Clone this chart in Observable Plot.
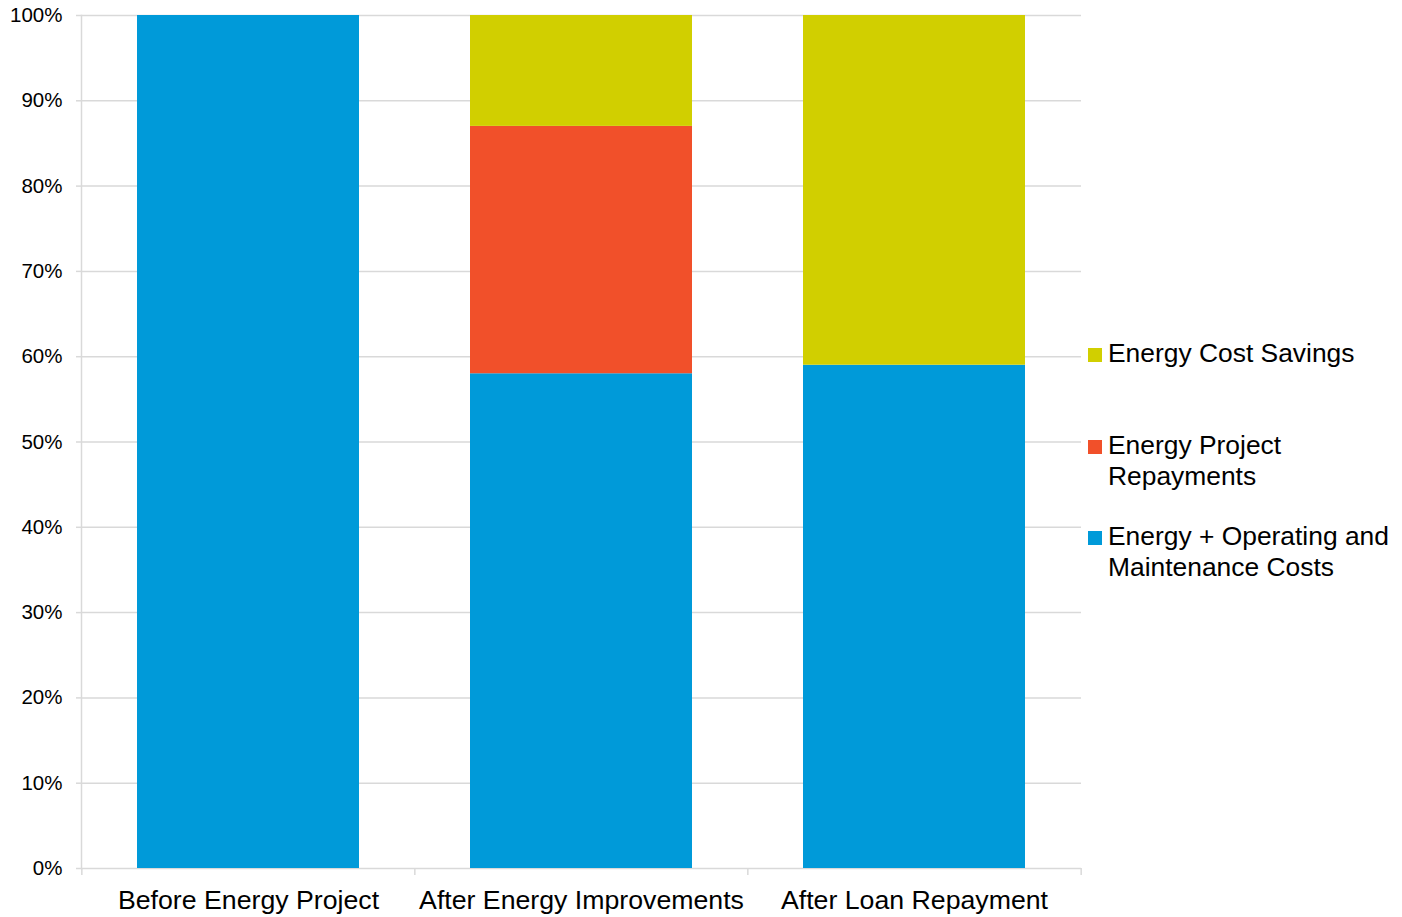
<!DOCTYPE html>
<html><head><meta charset="utf-8">
<script src="https://cdn.jsdelivr.net/npm/d3@7"></script>
<script src="https://cdn.jsdelivr.net/npm/@observablehq/plot@0.6"></script>
<style>
html,body{margin:0;padding:0;background:#fff;}
#wrap{position:relative;width:1402px;height:917px;overflow:hidden;font-family:"Liberation Sans",Arial,sans-serif;}
#wrap svg{position:absolute;left:0;top:0;}
.leg{position:absolute;left:1108px;font-size:26.4px;line-height:31px;color:#000;white-space:nowrap;}
.sw{position:absolute;left:-20px;top:10px;width:14px;height:14px;}
</style></head><body><div id="wrap"></div>
<script>
// ---- data ----
const categories = ["Before Energy Project", "After Energy Improvements", "After Loan Repayment"];
const series = ["Energy + Operating and Maintenance Costs", "Energy Project Repayments", "Energy Cost Savings"];
const operatingCosts = [100, 58, 59];
const projectRepayments = [0, 29, 0];
const costSavings = [0, 13, 41];
const seriesColors = ["#009ad9", "#f1502a", "#d1cf00"];
const yTicks = [0, 10, 20, 30, 40, 50, 60, 70, 80, 90, 100];
const legendLines = [["Energy Cost Savings"], ["Energy Project", "Repayments"], ["Energy + Operating and", "Maintenance Costs"]];
const legendSeries = [2, 1, 0];

// ---- build table ----
const valuesBySeries = [operatingCosts, projectRepayments, costSavings];
const rows = [];
categories.forEach((c, i) => {
  valuesBySeries.forEach((arr, j) => rows.push({category: c, series: series[j], value: arr[i]}));
});

const W = 1402, H = 917, ML = 81, MR = 321, MT = 15, MB = 49;
const step = (W - ML - MR) / categories.length;
const grid = "#d9d9d9";

const chart = Plot.plot({
  width: W, height: H,
  marginLeft: ML, marginRight: MR, marginTop: MT, marginBottom: MB,
  style: {fontFamily: "'Liberation Sans', Arial, sans-serif", background: "transparent", color: "#000", overflow: "visible"},
  x: {domain: categories, paddingInner: 1/3, paddingOuter: 1/6, label: null},
  y: {domain: [0, 100], label: null},
  color: {domain: series, range: seriesColors},
  marks: [
    Plot.ruleY(yTicks, {y: d => d, stroke: grid, strokeWidth: 1.5}),
    Plot.frame({anchor: "left", stroke: grid, strokeWidth: 1.5}),
    Plot.ruleX(categories, {x: d => d, dx: -step / 2, y1: 0, y2: 0, insetBottom: -7, stroke: grid, strokeWidth: 1.5}),
    Plot.ruleX(categories.slice(-1), {x: d => d, dx: step / 2, y1: 0, y2: 0, insetBottom: -7, stroke: grid, strokeWidth: 1.5}),
    Plot.barY(rows, {x: "category", y: "value", fill: "series", order: series}),
    Plot.axisY({ticks: yTicks, tickFormat: d => d + "%", tickSize: 5, tickPadding: 14, stroke: grid, strokeWidth: 1.5, fill: "#000", fontSize: 20.5, label: null}),
    Plot.axisX({tickSize: 0, tickPadding: 22, fill: "#000", fontSize: 26.7, label: null})
  ]
});
const wrap = document.getElementById("wrap");
wrap.appendChild(chart);

// ---- legend ----
const legendTops = [337.5, 429.5, 520.5];
legendSeries.forEach((si, k) => {
  const d = document.createElement("div");
  d.className = "leg";
  d.style.top = legendTops[k] + "px";
  const sw = document.createElement("div");
  sw.className = "sw";
  sw.style.background = seriesColors[si];
  d.appendChild(sw);
  legendLines[k].forEach((line, li) => {
    if (li) d.appendChild(document.createElement("br"));
    d.appendChild(document.createTextNode(line));
  });
  d.title = series[si];
  wrap.appendChild(d);
});
</script>
</body></html>
